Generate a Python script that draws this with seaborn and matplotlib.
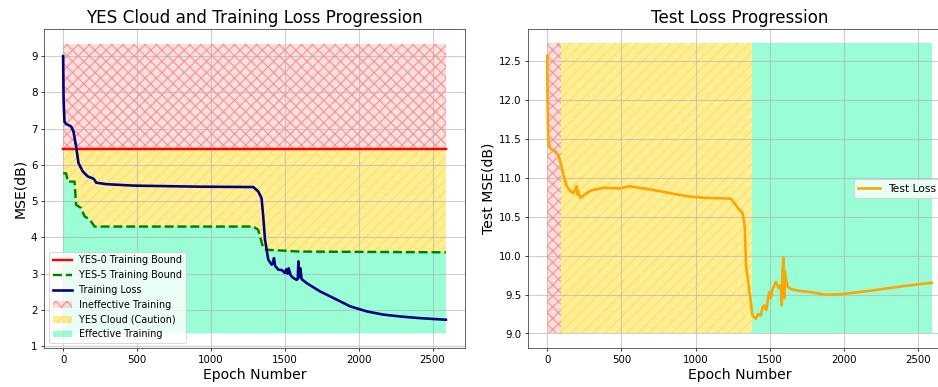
import numpy as np
import pandas as pd
import matplotlib
matplotlib.use("Agg")
import matplotlib.pyplot as plt
import seaborn as sns

# ---------------- data ----------------
train_epochs = [0, 3, 9, 20, 54, 70, 88, 104, 133, 167, 201, 210, 224, 292, 473, 925, 1287,
                1320, 1343, 1354, 1366, 1388, 1411, 1420, 1427, 1434, 1456, 1480, 1501, 1510,
                1520, 1526, 1540, 1558, 1580, 1588, 1592, 1597, 1605, 1614, 1648, 1739, 1829,
                1942, 2055, 2168, 2281, 2394, 2507, 2590]
train_loss = [9.0, 7.8, 7.19, 7.13, 7.06, 6.92, 6.5, 6.05, 5.82, 5.68, 5.63, 5.60, 5.51, 5.47,
              5.43, 5.40, 5.39, 5.27, 5.08, 4.58, 3.94, 3.39, 3.25, 3.30, 3.43, 3.22, 3.11,
              3.10, 3.02, 3.12, 3.00, 3.15, 2.95, 2.88, 2.83, 2.86, 3.34, 2.90, 3.15, 2.85,
              2.74, 2.51, 2.33, 2.10, 1.96, 1.87, 1.82, 1.78, 1.75, 1.73]

bound_epochs = [0, 20, 32, 77, 88, 122, 145, 179, 213, 1287, 1320, 1354, 1377, 1603, 2590]
bound_yes5 = [5.77, 5.77, 5.54, 5.54, 4.90, 4.81, 4.58, 4.50, 4.30, 4.30, 4.21, 3.71, 3.66,
              3.61, 3.59]

yes0_bound = 6.45
train_zone_top = 9.35
train_zone_bottom = 1.35

test_epochs = [0, 2, 7, 18, 52, 74, 90, 108, 131, 153, 175, 198, 204, 210, 221, 289, 379, 492,
               548, 717, 943, 1055, 1236, 1258, 1292, 1315, 1330, 1339, 1360, 1382, 1405, 1420,
               1439, 1450, 1461, 1475, 1495, 1505, 1518, 1540, 1560, 1574, 1579, 1584, 1590,
               1596, 1600, 1608, 1620, 1642, 1687, 1777, 1867, 1957, 2183, 2408, 2590]
test_loss = [12.56, 12.0, 11.49, 11.38, 11.34, 11.29, 11.19, 11.04, 10.89, 10.83, 10.80, 10.89,
             10.78, 10.82, 10.74, 10.83, 10.87, 10.86, 10.89, 10.84, 10.76, 10.74, 10.73, 10.68,
             10.59, 10.55, 10.38, 9.87, 9.57, 9.23, 9.19, 9.25, 9.23, 9.33, 9.36, 9.30, 9.53,
             9.45, 9.57, 9.66, 9.58, 9.62, 9.36, 9.75, 9.98, 9.45, 9.80, 9.70, 9.60, 9.57,
             9.55, 9.53, 9.50, 9.50, 9.55, 9.61, 9.65]

test_zone_edges = [0, 90, 1380, 2590]
test_zone_bottom = 9.0
test_zone_top = 12.72

# ---------------- style ----------------
plt.rcParams['font.family'] = ['DejaVu Sans']
plt.rcParams['hatch.linewidth'] = 1.2

DPI = 67
fig = plt.figure(figsize=(938 / DPI, 387 / DPI), dpi=DPI)
ax1 = fig.add_axes([44 / 938, 1 - 348 / 387, (465 - 44) / 938, (348 - 29) / 387])
ax2 = fig.add_axes([528 / 938, 1 - 348 / 387, (951 - 528) / 938, (348 - 29) / 387])

red_face = (1.0, 0.0, 0.0, 0.13)
red_hatch = (1.0, 0.0, 0.0, 0.35)
gold_face = (1.0, 0.843, 0.0, 0.42)
gold_hatch = (0.98, 0.78, 0.0, 0.35)
green_face = (0.0, 0.98, 0.604, 0.4)

# ---------- left: training ----------
x0, x1 = train_epochs[0], train_epochs[-1]
sns.lineplot(x=[x0, x1], y=[yes0_bound, yes0_bound], ax=ax1, color='red', linewidth=2.6,
             label='YES-0 Training Bound')
sns.lineplot(x=bound_epochs, y=bound_yes5, ax=ax1, color='green', linewidth=2.6,
             linestyle='--', label='YES-5 Training Bound', estimator=None, sort=False)
sns.lineplot(x=train_epochs, y=train_loss, ax=ax1, color='navy', linewidth=2.8,
             label='Training Loss', estimator=None, sort=False)

ax1.fill_between([x0, x1], yes0_bound, train_zone_top, facecolor=red_face,
                 edgecolor=red_hatch, hatch='xx', linewidth=0, label='Ineffective Training')
ax1.fill_between(bound_epochs, bound_yes5, yes0_bound, facecolor=gold_face,
                 edgecolor=gold_hatch, hatch='//', linewidth=0, label='YES Cloud (Caution)')
ax1.fill_between(bound_epochs, train_zone_bottom, bound_yes5, facecolor=green_face,
                 linewidth=0, label='Effective Training')

ax1.set_title('YES Cloud and Training Loss Progression', fontsize=18)
ax1.set_xlabel('Epoch Number', fontsize=15)
ax1.set_ylabel('MSE(dB)', fontsize=15)
ax1.grid(True, color='#b0b0b0', alpha=0.6, linewidth=1.2)
ax1.tick_params(labelsize=11)
ax1.set_yticks([1, 2, 3, 4, 5, 6, 7, 8, 9])
ax1.legend(loc='lower left', fontsize=10.3)

# ---------- right: test ----------
sns.lineplot(x=test_epochs, y=test_loss, ax=ax2, color='orange', linewidth=2.8,
             label='Test Loss', estimator=None, sort=False)
ax2.fill_between(test_zone_edges[0:2], test_zone_bottom, test_zone_top, facecolor=red_face,
                 edgecolor=red_hatch, hatch='xx', linewidth=0)
ax2.fill_between(test_zone_edges[1:3], test_zone_bottom, test_zone_top, facecolor=gold_face,
                 edgecolor=gold_hatch, hatch='//', linewidth=0)
ax2.fill_between(test_zone_edges[2:4], test_zone_bottom, test_zone_top, facecolor=green_face,
                 linewidth=0)
ax2.set_title('Test Loss Progression', fontsize=18)
ax2.set_xlabel('Epoch Number', fontsize=15)
ax2.set_ylabel('Test MSE(dB)', fontsize=15)
ax2.grid(True, color='#b0b0b0', alpha=0.6, linewidth=1.2)
ax2.tick_params(labelsize=11)
ax2.legend(loc='center right', fontsize=11.5, bbox_to_anchor=(0.976, 0.5), borderaxespad=0)

for ax in (ax1, ax2):
    for s in ax.spines.values():
        s.set_color('#333333')

fig.savefig('out.png', dpi=DPI)
